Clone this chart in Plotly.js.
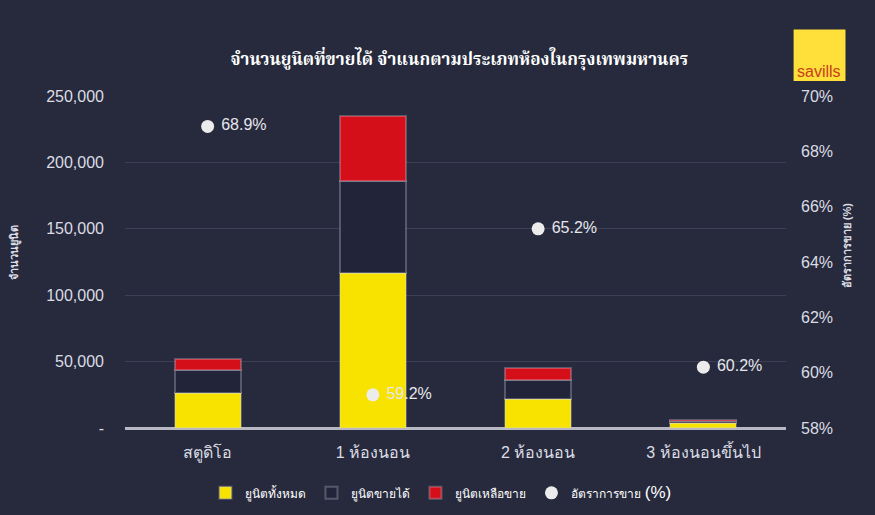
<!DOCTYPE html>
<html><head><meta charset="utf-8">
<script src="https://cdn.plot.ly/plotly-3.0.1.min.js"></script>
<style>html,body{margin:0;padding:0;background:#262a3c;}</style>
</head><body><div id="chart" style="width:875px;height:515px;"></div>
<script>
const categories = ["สตูดิโอ", "1 ห้องนอน", "2 ห้องนอน", "3 ห้องนอนขึ้นไป"];
const totalUnits = [26100, 116500, 21600, 3800];
const soldUnits = [17500, 69500, 14500, 1300];
const remainingUnits = [8000, 49000, 8800, 1100];
const salesRate = [68.9, 59.2, 65.2, 60.2];
const leftTickVals = [0, 50000, 100000, 150000, 200000, 250000];
const leftTickText = ["-", "50,000", "100,000", "150,000", "200,000", "250,000"];
const rightTickVals = [58, 60, 62, 64, 66, 68, 70];
const rightTickText = ["58%", "60%", "62%", "64%", "66%", "68%", "70%"];

const glow = {color: "rgba(220,220,232,0.28)", width: 2};
const traces = [
  {type: "bar", name: "ยูนิตทั้งหมด", x: categories, y: totalUnits, width: 0.4,
   marker: {color: "#f7e200", line: glow}},
  {type: "bar", name: "ยูนิตขายได้", x: categories, y: soldUnits, width: 0.4,
   marker: {color: "#22253a", line: glow}},
  {type: "bar", name: "ยูนิตเหลือขาย", x: categories, y: remainingUnits, width: 0.4,
   marker: {color: "#d40f1a", line: glow}},
  {type: "scatter", mode: "markers+text", name: "อัตราการขาย <span style='font-size:17px'>(%)</span>",
   x: categories, y: salesRate, yaxis: "y2",
   text: salesRate.map(v => "\u00a0" + v.toFixed(1) + "%"), textposition: "middle right",
   textfont: {color: "#e6e6ee", size: 16, family: "Liberation Sans, Arial, sans-serif"},
   marker: {color: "#ececec", size: 13}}
];

const layout = {
  width: 875, height: 515,
  paper_bgcolor: "#262a3c", plot_bgcolor: "#262a3c",
  margin: {l: 125, r: 89, t: 96, b: 87},
  barmode: "stack",
  showlegend: true,
  font: {family: "Liberation Sans, Arial, sans-serif", color: "#dcdce4"},
  title: {text: "<b>จำนวนยูนิตที่ขายได้ จำแนกตามประเภทห้องในกรุงเทพมหานคร</b>",
          x: 0.525, xanchor: "center", y: 0.885, yanchor: "middle",
          font: {size: 17, color: "#ffffff", family: "Noto Serif Thai, Noto Sans Thai, serif"}},
  xaxis: {showgrid: false, zeroline: false, showline: false, ticks: "", ticklabelstandoff: 13,
          automargin: false, tickfont: {size: 16, color: "#dcdce4"}, range: [-0.5, 3.5]},
  yaxis: {range: [0, 250000], tickvals: leftTickVals, ticktext: leftTickText, automargin: false,
          showgrid: true, gridcolor: "#3c4054", gridwidth: 1, zeroline: true,
          zerolinecolor: "#b8b8c4", zerolinewidth: 3, ticks: "", ticklabelstandoff: 20,
          tickfont: {size: 16, color: "#dcdce4"}},
  yaxis2: {overlaying: "y", side: "right", range: [58, 70], tickvals: rightTickVals, automargin: false,
           ticktext: rightTickText, showgrid: false, zeroline: false, ticks: "", ticklabelstandoff: 14,
           tickfont: {size: 16, color: "#dcdce4"}},
  legend: {orientation: "h", x: 0.478, xanchor: "center", xref: "paper",
           yref: "container", y: 0.043, yanchor: "middle",
           font: {size: 12, color: "#ffffff"}, traceorder: "normal", itemwidth: 30},
  shapes: [
    {type: "rect", xref: "paper", yref: "paper", x0: 1.0115, x1: 1.09, y0: 1.045, y1: 1.2,
     fillcolor: "#ffdf3a", line: {width: 0}, layer: "above"}
  ],
  annotations: [
    {text: "savills", xref: "paper", yref: "paper", x: 1.0505, y: 1.075, xanchor: "center", yanchor: "middle",
     showarrow: false, font: {size: 16, color: "#c8401e", family: "Liberation Sans, Arial, sans-serif"}},
    {text: "<b>จำนวนยูนิต</b>", xref: "paper", yref: "paper", x: -0.166, y: 0.527, textangle: -90,
     xanchor: "center", yanchor: "middle", showarrow: false, font: {size: 11, color: "#dcdce4"}},
    {text: "<b>อัตราการขาย (%)</b>", xref: "paper", yref: "paper", x: 1.0925, y: 0.551, textangle: -90,
     xanchor: "center", yanchor: "middle", showarrow: false, font: {size: 11, color: "#dcdce4"}}
  ]
};
Plotly.newPlot("chart", traces, layout, {displayModeBar: false});
</script></body></html>
